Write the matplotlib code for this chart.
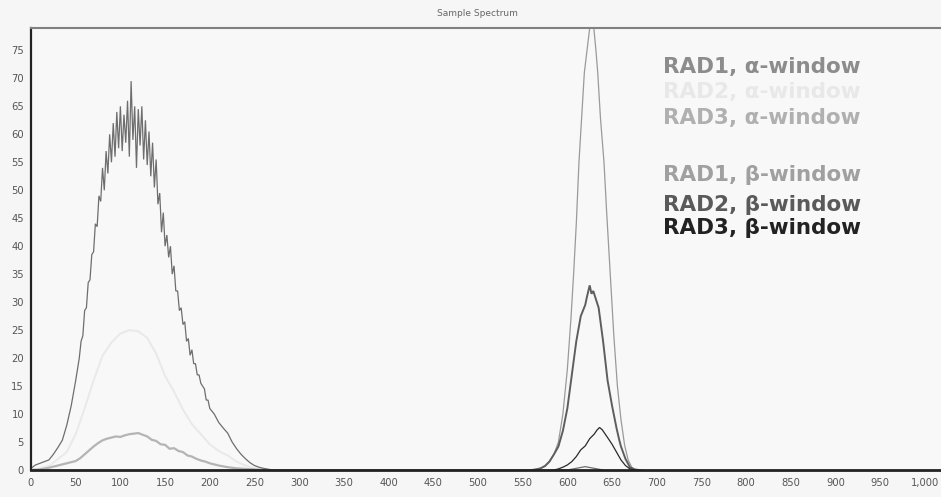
import matplotlib
matplotlib.use("Agg")
import matplotlib.pyplot as plt

# ---------------- data ----------------
title = "Sample Spectrum"
x_ticks = list(range(0, 1001, 50))
x_tick_labels = [str(v) if v < 1000 else "1,000" for v in x_ticks]
y_ticks = list(range(0, 76, 5))

legend_labels = ["RAD1, α-window", "RAD2, α-window", "RAD3, α-window",
                 "RAD1, β-window", "RAD2, β-window", "RAD3, β-window"]

# RAD1 alpha window (large noisy alpha peak)
rad1_alpha_x = [0, 5, 10, 15, 20, 25, 30, 35, 40, 45, 50, 54,
                56, 58, 60, 62, 64, 66, 68, 70, 72, 74, 76, 78, 80, 82, 84, 86, 88, 90,
                92, 94, 96, 98, 100, 102, 104, 106, 108, 110, 112, 114, 116, 118, 120,
                122, 124, 126, 128, 130, 132, 134, 136, 138, 140, 142, 144, 146, 148, 150,
                152, 154, 156, 158, 160, 162, 164, 166, 168, 170, 172, 174, 176, 178, 180,
                182, 184, 186, 188, 190, 192, 194, 196, 198, 200,
                205, 210, 215, 220, 225, 230, 235, 240, 245, 250, 255, 260, 265, 270,
                600, 610, 620, 630, 640]
rad1_alpha_y = [0.3, 0.9, 1.2, 1.5, 1.8, 2.8, 4.0, 5.3, 8.0, 11.5, 16.0, 20.0,
                23, 24, 28.5, 29, 33.5, 34, 38.5, 39, 44, 43.5, 49, 48, 54, 50, 57, 53, 60, 55,
                62, 56, 64, 57.5, 65, 57, 63.5, 58.5, 66, 56, 69.5, 59, 65, 54, 64.5,
                58, 65, 55.5, 62.5, 54.5, 60.5, 52.5, 58.5, 50.5, 55.5, 47.5, 49.5, 42.5, 46, 40,
                42, 38, 40, 35, 36.5, 32, 32, 28.5, 29, 26, 26.5, 23, 23.5, 20.5, 21.5,
                19, 19, 17, 17, 15.5, 15, 14.5, 12.5, 12.5, 11,
                10, 8.5, 7.5, 6.6, 5.0, 3.8, 2.8, 2.0, 1.3, 0.8, 0.5, 0.3, 0.15, 0.0,
                0.0, 0.3, 0.6, 0.3, 0.0]

# RAD2 alpha window (very faint)
rad2_alpha_x = [0, 20, 40, 50, 60, 70, 80, 90, 100, 110, 120, 130, 140, 150,
                160, 170, 180, 190, 200, 210, 220, 230, 240, 250, 260, 270]
rad2_alpha_y = [0, 0.7, 3.2, 6.4, 11, 16, 20.4, 22.8, 24.4, 25, 24.8, 23.6, 20.8, 16.8,
                14, 10.8, 8.2, 6.4, 4.6, 3.4, 2.6, 1.5, 0.8, 0.3, 0.1, 0]

# RAD3 alpha window (small alpha peak)
rad3_alpha_x = [0, 10, 20, 30, 40, 50, 55, 60, 65, 70, 75, 80, 85, 90, 95, 100, 105,
                110, 115, 120, 125, 130, 135, 140, 145, 150, 155, 160, 165, 170, 175,
                180, 185, 190, 195, 200, 210, 220, 230, 240, 250, 260]
rad3_alpha_y = [0, 0.1, 0.4, 0.8, 1.2, 1.6, 2.1, 2.8, 3.5, 4.2, 4.8, 5.3, 5.6, 5.8, 6.0,
                5.9, 6.2, 6.4, 6.5, 6.6, 6.3, 6.0, 5.4, 5.2, 4.6, 4.5, 3.8, 3.9, 3.4, 3.2,
                2.6, 2.4, 2.0, 1.7, 1.5, 1.2, 0.8, 0.5, 0.3, 0.2, 0.1, 0]

# RAD1 beta window (tall thin peak)
rad1_beta_x = [560, 570, 575, 580, 585, 590, 595, 600, 604, 607, 610, 613, 616, 619,
               622, 625, 627, 629, 632, 634, 637, 641, 644, 648, 652, 656, 660, 664,
               668, 672, 676, 685]
rad1_beta_y = [0, 0.3, 0.8, 1.6, 2.8, 5, 10, 18, 27, 35, 44, 55, 63, 71,
               75, 79, 81, 80, 75, 71, 63, 55, 46, 35, 24, 15, 9, 4.5,
               1.8, 0.5, 0.1, 0]

# RAD2 beta window
rad2_beta_x = [560, 565, 570, 575, 580, 585, 590, 595, 600, 605, 610, 615, 620, 622,
               625, 627, 629, 632, 635, 640, 645, 650, 655, 658, 660, 665, 670, 675, 680]
rad2_beta_y = [0, 0.1, 0.3, 0.7, 1.5, 2.8, 4.2, 7, 11, 17, 23, 27.5, 29.5, 31,
               33, 31.5, 32, 30.5, 29, 23, 16, 11.5, 7.5, 5.4, 4.2, 2.0, 0.5, 0.1, 0]

# RAD3 beta window
rad3_beta_x = [585, 590, 595, 600, 605, 610, 615, 620, 625, 630, 633, 636, 639, 642,
               645, 650, 655, 660, 665, 670, 675]
rad3_beta_y = [0, 0.2, 0.5, 0.9, 1.5, 2.4, 3.6, 4.3, 5.6, 6.4, 7.1, 7.6, 7.2, 6.5,
               5.8, 4.6, 3.2, 1.8, 0.8, 0.2, 0]

# ---------------- styles ----------------
series = [
    (rad2_alpha_x, rad2_alpha_y, "#e9e9e9", 1.4),
    (rad3_alpha_x, rad3_alpha_y, "#b4b4b4", 1.6),
    (rad1_alpha_x, rad1_alpha_y, "#6e6e6e", 0.9),
    (rad1_beta_x, rad1_beta_y, "#9a9a9a", 0.9),
    (rad2_beta_x, rad2_beta_y, "#5e5e5e", 1.4),
    (rad3_beta_x, rad3_beta_y, "#2a2a2a", 0.9),
]
legend_colors = ["#8c8c8c", "#e8e8e8", "#b0b0b0", "#a0a0a0", "#5a5a5a", "#222222"]
legend_ypx = [67, 92, 118, 175, 205, 228]

W, H = 941, 497
fig = plt.figure(figsize=(W / 100, H / 100), dpi=100)
fig.patch.set_facecolor("#f6f6f6")
ax = fig.add_axes([31 / W, 1 - 470 / H, (W - 31) / W, (470 - 28) / H])
ax.set_facecolor("#f8f8f8")

for xs, ys, c, lw in series:
    ax.plot(xs, ys, color=c, lw=lw, solid_joinstyle="miter")

ax.set_xlim(0, 1018)
ax.set_ylim(0, 79)
ax.set_xticks(x_ticks)
ax.set_xticklabels(x_tick_labels)
ax.set_yticks(y_ticks)
ax.tick_params(axis="both", length=0, labelsize=7.2, labelcolor="#555555")
ax.tick_params(axis="x", pad=6)
ax.tick_params(axis="y", pad=5)

ax.spines["right"].set_visible(False)
ax.spines["left"].set_color("#222222")
ax.spines["left"].set_linewidth(1.6)
ax.spines["bottom"].set_color("#222222")
ax.spines["bottom"].set_linewidth(2.0)
ax.spines["top"].set_color("#808080")
ax.spines["top"].set_linewidth(1.5)

fig.text(477 / W, 1 - 13 / H, title, ha="center", va="center",
         fontsize=6.5, color="#666666")

for lab, c, ypx in zip(legend_labels, legend_colors, legend_ypx):
    fig.text(663 / W, 1 - ypx / H, lab, ha="left", va="center",
             fontsize=15.5, fontweight="bold", color=c, family="DejaVu Sans")

fig.savefig("out.png", dpi=100, facecolor=fig.get_facecolor())
